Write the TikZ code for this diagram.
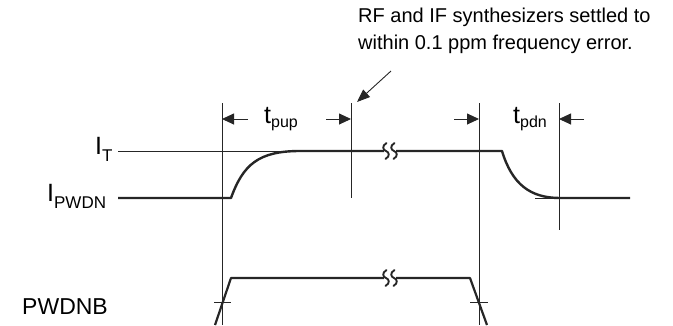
\documentclass[tikz,border=0pt]{standalone}
\usepackage{fontspec}
\setmainfont{Liberation Sans}
\usetikzlibrary{arrows.meta}
\begin{document}
\begin{tikzpicture}[x=1pt,y=-1pt,
  thinline/.style={line width=0.9pt,black!85},
  sig/.style={line width=2.4pt,black!85,line join=round},
  dimarrow/.style={line width=0.9pt,black!85,-{Triangle[length=12pt,width=11pt]}},
  lbl/.style={inner sep=0pt,anchor=base west},
  note/.style={font=\fontsize{20}{27}\selectfont,align=left,inner sep=0pt,anchor=north west}]
\useasboundingbox (0,0) rectangle (673,325);
% coordinates
\coordinate (v1t) at (222,103); \coordinate (v1b) at (222,325);
\coordinate (v2t) at (351,103); \coordinate (v2b) at (351,198);
\coordinate (v3t) at (479,103); \coordinate (v3b) at (479,325);
\coordinate (v4t) at (559,103); \coordinate (v4b) at (559,230);
% vertical reference lines
\draw[thinline] (v1t) -- (v1b);
\draw[thinline] (v2t) -- (v2b);
\draw[thinline] (v3t) -- (v3b);
\draw[thinline] (v4t) -- (v4b);
% dimension arrows
\coordinate (a1) at (248,119); \coordinate (a1e) at (222,119);
\coordinate (a2) at (326,119); \coordinate (a2e) at (351,119);
\coordinate (a3) at (454,119); \coordinate (a3e) at (479,119);
\coordinate (a4) at (584,119); \coordinate (a4e) at (559,119);
\draw[dimarrow] (a1) -- (a1e);
\draw[dimarrow] (a2) -- (a2e);
\draw[dimarrow] (a3) -- (a3e);
\draw[dimarrow] (a4) -- (a4e);
\node[lbl] (tpup) at (264,123) {{\fontsize{25}{25}\selectfont t}{\fontsize{16}{16}\selectfont\raisebox{-4pt}{pup}}};
\node[lbl] (tpdn) at (513,123) {{\fontsize{25}{25}\selectfont t}{\fontsize{16}{16}\selectfont\raisebox{-4pt}{pdn}}};
% level labels
\node[lbl] (IT) at (95,154) {{\fontsize{25}{25}\selectfont I}{\fontsize{17}{17}\selectfont\raisebox{-7pt}{T}}};
\node[lbl] (IPWDN) at (47,201) {{\fontsize{25}{25}\selectfont I}{\fontsize{17}{17}\selectfont\raisebox{-7pt}{PWDN}}};
\node[lbl] (PWDNB) at (22,314) {\fontsize{23}{23}\selectfont PWDNB};
% IT reference line
\coordinate (itl) at (118,151); \coordinate (itr) at (384,151);
\draw[thinline] (itl) -- (itr);
% baseline stub
\coordinate (bl) at (535,198); \coordinate (br) at (630,198);
\draw[thinline] (bl) -- (br);
% current waveform
\coordinate (c0) at (118,198); \coordinate (c1) at (231,198);
\coordinate (c2) at (300,151); \coordinate (cb1) at (384,151);
\coordinate (cb2) at (396,151); \coordinate (c3) at (502,151);
\coordinate (c4) at (560,198); \coordinate (c5) at (630,198);
\draw[sig] (c0) -- (c1) .. controls (243,165) and (258,151) .. (c2) -- (cb1);
\draw[sig] (cb2) -- (c3) .. controls (512,184) and (530,198) .. (c4) -- (c5);
% PWDNB waveform
\coordinate (p0) at (215,325); \coordinate (p1) at (231,278);
\coordinate (pb1) at (384,278); \coordinate (pb2) at (396,278);
\coordinate (p2) at (470,278); \coordinate (p3) at (487,325);
\draw[sig,line width=2.2pt] (p0) -- (p1) -- (pb1);
\draw[sig,line width=2.2pt] (pb2) -- (p2) -- (p3);
% ticks
\coordinate (k1l) at (214,302); \coordinate (k1r) at (231,302);
\coordinate (k2l) at (470,302); \coordinate (k2r) at (488,302);
\draw[thinline] (k1l) -- (k1r);
\draw[thinline] (k2l) -- (k2r);
% break symbols
\foreach \yy in {151,278}{
  \foreach \xx in {386,394}{
    \draw[line width=1.9pt,black!85,line cap=round]
      (\xx+0.5,\yy-8) .. controls (\xx-4.5,\yy-5) and (\xx-3,\yy-1) .. (\xx,\yy)
      .. controls (\xx+3,\yy+1) and (\xx+4.5,\yy+5) .. (\xx-0.5,\yy+8);
  }
}
% annotation
\node[note] (note) at (358,8) {RF and IF synthesizers settled to\\within 0.1 ppm frequency error.};
\coordinate (ns) at (391,71); \coordinate (ne) at (357,102);
\draw[thinline,-{Triangle[length=13pt,width=10pt]}] (ns) -- (ne);
\end{tikzpicture}
\end{document}
